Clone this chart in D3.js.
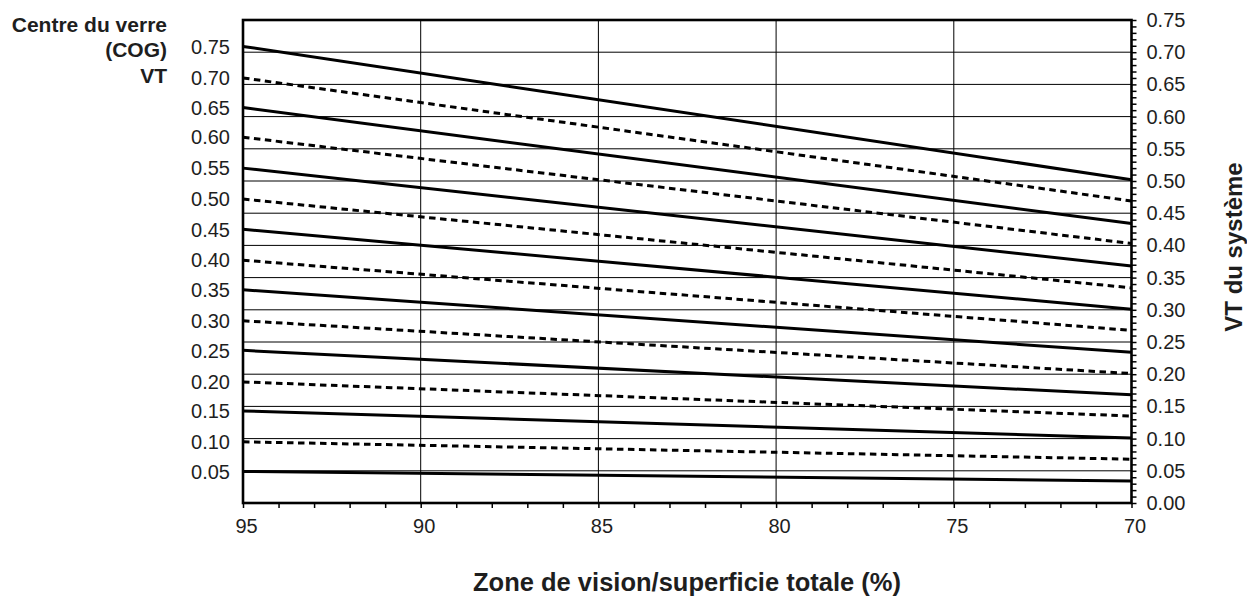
<!DOCTYPE html>
<html>
<head>
<meta charset="utf-8">
<script src="https://cdn.jsdelivr.net/npm/d3@7"></script>
<style>
  html, body { margin: 0; padding: 0; background: #fff; }
  svg { display: block; font-family: "Liberation Sans", Arial, Helvetica, sans-serif; }
</style>
</head>
<body>
<svg id="chart" width="1247" height="596"></svg>
<script>
// Centre-of-glass VT for each curve
const cogVT = [0.75, 0.70, 0.65, 0.60, 0.55, 0.50, 0.45, 0.40, 0.35, 0.30, 0.25, 0.20, 0.15, 0.10, 0.05];
// System VT at 95 % vision area
const vtAt95 = [0.709, 0.660, 0.614, 0.568, 0.520, 0.472, 0.425, 0.377, 0.331, 0.283, 0.237, 0.188, 0.143, 0.095, 0.049];
// System VT at 70 % vision area
const vtAt70 = [0.502, 0.469, 0.434, 0.403, 0.368, 0.334, 0.301, 0.268, 0.234, 0.201, 0.168, 0.135, 0.101, 0.068, 0.034];
// Vision-area percentages at the ends of each curve
const visionPct = [95, 70];
// Axis ticks
const xMajorTicks = [95, 90, 85, 80, 75, 70];
const yMajorTicks = [0.00, 0.05, 0.10, 0.15, 0.20, 0.25, 0.30, 0.35, 0.40, 0.45, 0.50, 0.55, 0.60, 0.65, 0.70, 0.75];

const svg = d3.select("#chart");
const plotL = 243, plotR = 1131.5, plotT = 20, plotB = 503;
const ink = "#1e1e1e";

const x = d3.scaleLinear().domain([95, 70]).range([plotL, plotR]);
const y = d3.scaleLinear().domain([0, 0.75]).range([plotB, plotT]);

// Grid
const grid = svg.append("g").attr("stroke", "#000").attr("stroke-width", 1);
grid.selectAll("line.h")
  .data(yMajorTicks.filter(v => v > 0 && v < 0.75))
  .join("line")
  .attr("class", "h")
  .attr("x1", plotL).attr("x2", plotR)
  .attr("y1", d => y(d)).attr("y2", d => y(d));
grid.selectAll("line.v")
  .data(xMajorTicks.filter(v => v < 95 && v > 70))
  .join("line")
  .attr("class", "v")
  .attr("x1", d => x(d)).attr("x2", d => x(d))
  .attr("y1", plotT).attr("y2", plotB);

// Curves
const series = cogVT.map((c, i) => ({
  cog: c,
  dashed: i % 2 === 1,
  pts: [[visionPct[0], vtAt95[i]], [visionPct[1], vtAt70[i]]]
}));
const line = d3.line().x(d => x(d[0])).y(d => y(d[1]));
svg.append("g").selectAll("path")
  .data(series)
  .join("path")
  .attr("d", d => line(d.pts))
  .attr("fill", "none")
  .attr("stroke", "#000")
  .attr("stroke-width", 3)
  .attr("stroke-dasharray", d => d.dashed ? "6.5,4.5" : null);

// Bottom axis
const xAxis = d3.axisBottom(x)
  .tickValues(d3.range(95, 69, -1))
  .tickSize(5)
  .tickFormat(d => xMajorTicks.includes(d) ? d3.format("d")(d) : "");
const gx = svg.append("g").attr("transform", `translate(0,${plotB})`).call(xAxis);
gx.select(".domain").remove();
gx.selectAll(".tick line").attr("stroke", "#000").attr("stroke-width", 1.5);
gx.selectAll(".tick text")
  .attr("font-size", 20).attr("fill", ink)
  .attr("y", 30).attr("dy", 0).attr("dx", 3);

// Right axis
const yAxis = d3.axisRight(y)
  .tickValues(d3.range(0, 76, 1).map(v => v / 100))
  .tickSize(5)
  .tickFormat(d => {
    const k = Math.round(d * 100);
    return k % 5 === 0 ? d3.format(".2f")(d) : "";
  });
const gy = svg.append("g").attr("transform", `translate(${plotR},0)`).call(yAxis);
gy.select(".domain").remove();
gy.selectAll(".tick line").attr("stroke", "#000").attr("stroke-width", 1.5);
gy.selectAll(".tick text")
  .attr("font-size", 20).attr("fill", ink)
  .attr("x", 15);

// Left labels: COG VT at the start of each curve
svg.append("g").selectAll("text")
  .data(series)
  .join("text")
  .attr("x", 230)
  .attr("y", d => y(d.pts[0][1]))
  .attr("dy", "0.36em")
  .attr("text-anchor", "end")
  .attr("font-size", 20)
  .attr("fill", ink)
  .text(d => d3.format(".2f")(d.cog));

// Plot frame
svg.append("rect")
  .attr("x", plotL).attr("y", plotT)
  .attr("width", plotR - plotL).attr("height", plotB - plotT)
  .attr("fill", "none").attr("stroke", "#000").attr("stroke-width", 2.6);

// Titles
const leftTitle = ["Centre du verre", "(COG)", "VT"];
svg.append("g").selectAll("text")
  .data(leftTitle)
  .join("text")
  .attr("x", 167)
  .attr("y", (d, i) => 31.5 + i * 25.5)
  .attr("text-anchor", "end")
  .attr("font-size", 21)
  .attr("font-weight", "bold")
  .attr("fill", ink)
  .text(d => d);

svg.append("text")
  .attr("x", 687).attr("y", 591)
  .attr("text-anchor", "middle")
  .attr("font-size", 25.5)
  .attr("font-weight", "bold")
  .attr("fill", ink)
  .text("Zone de vision/superficie totale (%)");

svg.append("text")
  .attr("transform", "translate(1242,247) rotate(-90)")
  .attr("text-anchor", "middle")
  .attr("font-size", 24)
  .attr("font-weight", "bold")
  .attr("fill", ink)
  .text("VT du système");
</script>
</body>
</html>
